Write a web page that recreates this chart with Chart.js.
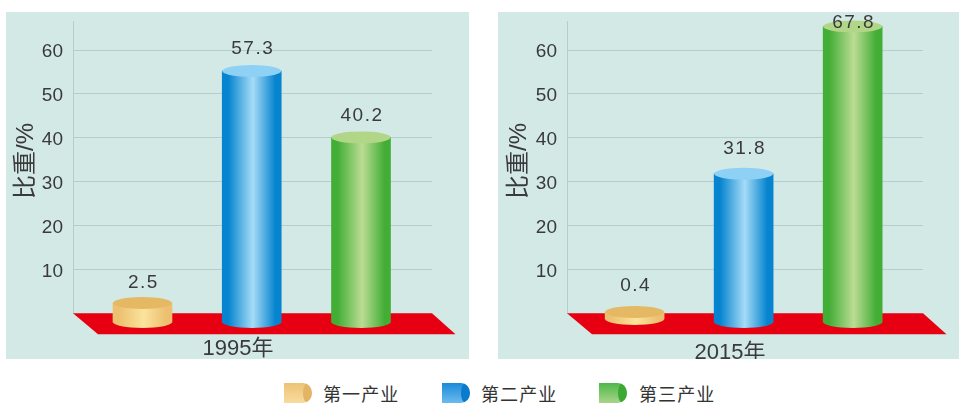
<!DOCTYPE html>
<html lang="zh">
<head>
<meta charset="utf-8">
<style>
html,body{margin:0;padding:0;background:#fff;width:959px;height:403px;overflow:hidden}
canvas{position:absolute;top:12px;background:#d2e9e6}
.sw{position:absolute;top:383px;width:28px;height:20px;border-radius:0 9px 9px 0/0 10px 10px 0;overflow:hidden}
.sw i{position:absolute;right:0;top:0;width:9px;height:20px;border-radius:50%}
.lt{position:absolute;top:382px;height:22px;font:400 18px/22px "Noto Sans CJK SC";letter-spacing:1.1px;color:#333;white-space:nowrap}
</style>
<script src="https://cdn.jsdelivr.net/npm/chart.js@4"></script>
</head>
<body>
<canvas id="c1995" width="463" height="347" style="left:6px"></canvas>
<canvas id="c2015" width="461" height="347" style="left:498px"></canvas>
<div id="legend"></div>
<script>
// Data
const categories = ['第一产业', '第二产业', '第三产业'];
const years = ['1995年', '2015年'];
const yTicks = [10, 20, 30, 40, 50, 60];
// Values printed above the cylinders
const printed1995 = [2.5, 57.3, 40.2];
const printed2015 = [0.4, 31.8, 67.8];
// Where the cylinder tops actually sit on the axis (the artwork differs a little from the printed values)
const tops1995 = [2.35, 55.25, 40.1];
const tops2015 = [0.3, 31.8, 65.4];
// The cylinders stand on the red floor, a little below the axis zero
const bases1995 = [-2, -2, -2];
const bases2015 = [-1.3, -2, -2];

// Styles
const FONT = '"Liberation Sans","Noto Sans CJK SC",sans-serif';
const INK = '#3a3a3a';
const GRID = '#b4cfcb';
const RED = '#e60012';
const styles = [
  {edge:'#ecc070', mid:'#fbe39c', top:'#e5b863', swA:'#edc277', swB:'#f8dc9e', swEnd:'#e3b463'},
  {edge:'#0684cf', mid:'#a6dbf7', top:'#8fd0f5', swA:'#1a8ad8', swB:'#6bbcec', swEnd:'#0a7bcc'},
  {edge:'#42ae36', mid:'#bcdc94', top:'#b2d687', swA:'#4db848', swB:'#a9d48b', swEnd:'#3aaa35'}
];
const BAR_W = 59, RY = 6;

const cylinderPlugin = {
  id: 'cylinder',
  beforeDraw(chart) {
    // Tick labels sit slightly below their grid lines in the reference
    const y = chart.scales.y;
    y.getLabelItems(chart.chartArea).forEach(it => { it.options.translation[1] += 2; });
  },
  beforeDatasetsDraw(chart) {
    const {ctx, chartArea: a, scales: {y}} = chart;
    const y0 = y.getPixelForValue(0), y1 = y0 + 21;
    ctx.save();
    ctx.fillStyle = RED;
    ctx.beginPath();
    ctx.moveTo(a.left, y0);
    ctx.lineTo(a.right, y0);
    ctx.lineTo(a.right + 23.5, y1);
    ctx.lineTo(a.left + 25, y1);
    ctx.closePath();
    ctx.fill();
    ctx.restore();
  },
  afterDatasetsDraw(chart, _args, opts) {
    const {ctx} = chart;
    const meta = chart.getDatasetMeta(0);
    meta.data.forEach((el, i) => {
      const top = Math.min(el.y, el.base), bottom = Math.max(el.y, el.base);
      ctx.save();
      ctx.fillStyle = el.options.backgroundColor;
      ctx.beginPath();
      ctx.ellipse(el.x, bottom, BAR_W / 2, RY, 0, 0, Math.PI);
      ctx.fill();
      ctx.fillStyle = styles[i].top;
      ctx.beginPath();
      ctx.ellipse(el.x, top, BAR_W / 2, RY, 0, 0, Math.PI * 2);
      ctx.fill();
      ctx.fillStyle = INK;
      ctx.font = '19px ' + FONT;
      ctx.letterSpacing = '1.5px';
      ctx.textAlign = 'center';
      ctx.textBaseline = 'middle';
      ctx.fillText(opts.printed[i].toFixed(1), el.x + 1, top - opts.lift[i]);
      ctx.restore();
    });
  },
  afterDraw(chart, _args, opts) {
    const {ctx} = chart;
    ctx.save();
    ctx.fillStyle = INK;
    ctx.textBaseline = 'middle';
    ctx.textAlign = 'center';
    ctx.font = '22px ' + FONT;
    ctx.fillText(opts.year, opts.yearX, opts.yearY);
    ctx.translate(opts.titleX, 149);
    ctx.rotate(-Math.PI / 2);
    ctx.font = '24px ' + FONT;
    ctx.fillText('比重/%', 0, 0);
    ctx.restore();
  }
};

function makeChart(id, year, tops, bases, printed, cfg) {
  new Chart(document.getElementById(id), {
    type: 'bar',
    data: {
      datasets: [{
        label: year,
        data: tops.map((t, i) => ({x: i, y: [bases[i], t]})),
        barThickness: BAR_W,
        clip: false,
        borderWidth: 0,
        backgroundColor(c) {
          if (c.dataIndex === undefined || !c.chart.scales.x) return styles[0].edge;
          const s = styles[c.dataIndex];
          const x = c.chart.scales.x.getPixelForValue(c.dataIndex);
          if (!Number.isFinite(x)) return s.edge;
          const g = c.chart.ctx.createLinearGradient(x - BAR_W / 2, 0, x + BAR_W / 2, 0);
          g.addColorStop(0, s.edge);
          g.addColorStop(0.1, s.edge);
          g.addColorStop(0.52, s.mid);
          g.addColorStop(0.9, s.edge);
          g.addColorStop(1, s.edge);
          return g;
        }
      }]
    },
    options: {
      responsive: false,
      animation: false,
      events: [],
      layout: {autoPadding: false, padding: {left: 0, right: cfg.padRight, top: 9.7, bottom: 45.7}},
      plugins: {
        legend: {display: false},
        tooltip: {enabled: false},
        title: {display: false},
        cylinder: {printed, lift: cfg.lift, year, yearX: cfg.yearX, yearY: cfg.yearY, titleX: cfg.titleX}
      },
      scales: {
        x: {type: 'linear', display: false, min: cfg.xMin, max: cfg.xMax, offset: false},
        y: {
          min: 0,
          max: 66.48,
          afterFit(s) { s.width = cfg.axisW; s.paddingTop = 0; s.paddingBottom = 0; },
          afterBuildTicks(s) { s.ticks = yTicks.map(v => ({value: v})); },
          border: {display: true, color: GRID, width: 1},
          grid: {color: GRID, lineWidth: 1, drawTicks: false},
          ticks: {padding: 10, color: INK, font: {family: FONT, size: 19}}
        }
      }
    },
    plugins: [cylinderPlugin]
  });
}

makeChart('c1995', years[0], tops1995, bases1995, printed1995, {
  padRight: 37, axisW: 67, xMin: -0.636, xMax: 2.65,
  lift: [20, 22, 21.5], yearX: 232, yearY: 337, titleX: 20
});
makeChart('c2015', years[1], tops2015, bases2015, printed2015, {
  padRight: 36, axisW: 69, xMin: -0.62, xMax: 2.645,
  lift: [26, 25, 3.5], yearX: 232, yearY: 341, titleX: 21
});

// Shared legend
const legendX = [[284, 323], [442, 481], [599, 639]];
const legend = document.getElementById('legend');
categories.forEach((name, i) => {
  const s = styles[i];
  const sw = document.createElement('div');
  sw.className = 'sw';
  sw.style.left = legendX[i][0] + 'px';
  sw.style.background = 'linear-gradient(180deg,' + s.swA + ',' + s.swB + ')';
  const end = document.createElement('i');
  end.style.background = s.swEnd;
  sw.appendChild(end);
  legend.appendChild(sw);
  const t = document.createElement('div');
  t.className = 'lt';
  t.style.left = legendX[i][1] + 'px';
  t.textContent = name;
  legend.appendChild(t);
});
</script>
</body>
</html>
